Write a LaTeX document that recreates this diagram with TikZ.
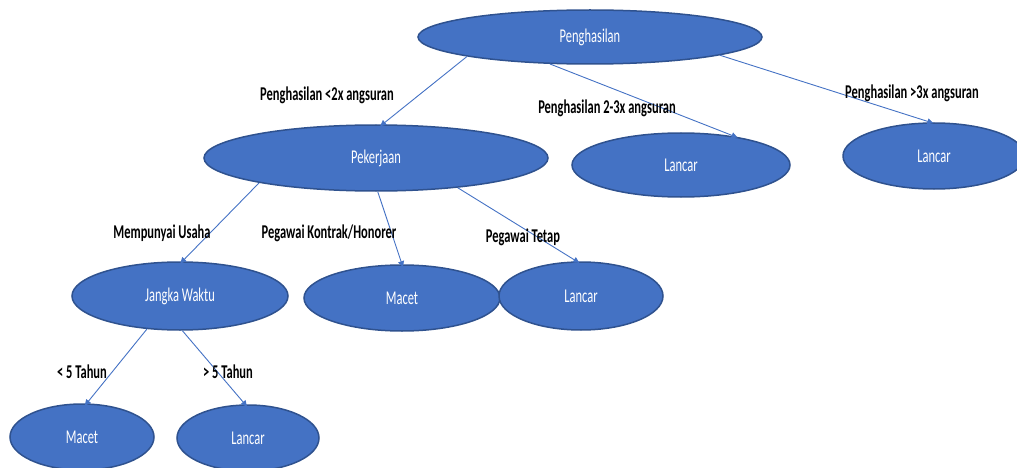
\documentclass[tikz,border=0pt]{standalone}
\usepackage{fontspec}
\setmainfont[FakeStretch=0.64]{Carlito}
\usetikzlibrary{shapes.geometric,arrows.meta}
\definecolor{bluofc}{HTML}{4472C4}
\definecolor{bordoofc}{HTML}{2F528F}
\tikzset{
  nodo/.style={ellipse, draw=bordoofc, line width=1.5pt, fill=bluofc,
    text=white, inner sep=0pt, font=\fontsize{19.5}{22}\selectfont},
  ramo/.style={draw=bluofc, line width=0.9pt,
    -{Triangle[length=6pt,width=6pt]}, shorten >=-3pt},
  etich/.style={font=\fontsize{19.5}{22}\selectfont\bfseries, inner sep=0pt}
}
\begin{document}
\begin{tikzpicture}[x=1pt,y=-1pt]

            \useasboundingbox (0,0) rectangle (1017,468);
            \clip (0,0) rectangle (1017,468);

            % Nodi
            \node[nodo, minimum width=344, minimum height=54] (pengh) at (590,37) {Penghasilan};
            \node[nodo, minimum width=344, minimum height=66] (pekerj) at (376,158) {Pekerjaan};
            \node[nodo, minimum width=218, minimum height=64] (lancarA) at (681,165) {Lancar};
            \node[nodo, minimum width=182, minimum height=66] (lancarB) at (934,156) {Lancar};
            \node[nodo, minimum width=216, minimum height=68] (jangka) at (180,296) {Jangka Waktu};
            \node[nodo, minimum width=196, minimum height=66] (macetA) at (402,298) {Macet};
            \node[nodo, minimum width=164, minimum height=68] (lancarC) at (581,296) {Lancar};
            \node[nodo, minimum width=144, minimum height=66] (macetB) at (82,437) {Macet};
            \node[nodo, minimum width=142, minimum height=66] (lancarD) at (248,438) {Lancar};

            % Rami
            \draw[ramo] (pengh.-171) -- (pekerj.79);
            \draw[ramo] (pengh.-146) -- (lancarA.28);
            \draw[ramo] (pengh.-8) -- (lancarB.96);
            \draw[ramo] (pekerj.-168) -- (jangka.86);
            \draw[ramo] (pekerj.-87) -- (macetA.90);
            \draw[ramo] (pekerj.-20) -- (lancarC.97);
            \draw[ramo] (jangka.-135) -- (macetB.82);
            \draw[ramo] (jangka.-86) -- (lancarD.95);

            % Etichette
            \node[etich] (e1) at (327,95) {Penghasilan <2x angsuran};
            \node[etich] (e2) at (607,108) {Penghasilan 2-3x angsuran};
            \node[etich] (e3) at (912,93) {Penghasilan >3x angsuran};
            \node[etich] (e4) at (162,233) {Mempunyai Usaha};
            \node[etich] (e5) at (329,233) {Pegawai Kontrak/Honorer};
            \node[etich] (e6) at (523,237) {Pegawai Tetap};
            \node[etich] (e7) at (82,372) {< 5 Tahun};
            \node[etich] (e8) at (228,372) {> 5 Tahun};

        \end{tikzpicture}
\end{document}
